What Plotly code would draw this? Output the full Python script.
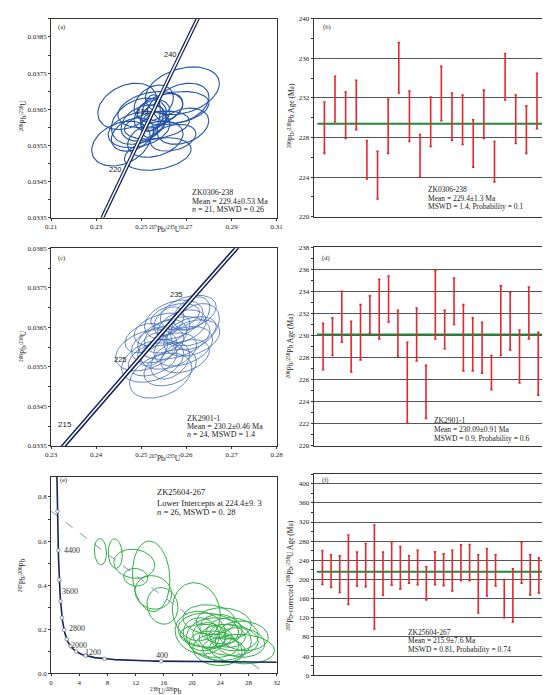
import numpy as np
import plotly.graph_objects as go

# decay constants (1/yr) and present 238U/235U
L238 = 1.55125e-10
L235 = 9.8485e-10
U_RATIO = 137.88

# ---- (a) ZK0306-238 concordia ellipses ----
a_cx = [0.2410, 0.2682, 0.2677, 0.2573, 0.2438, 0.2490, 0.2684, 0.2540, 0.2547, 0.2541, 0.2562,
        0.2490, 0.2641, 0.2569, 0.2547, 0.2511, 0.2605, 0.2555, 0.2641, 0.2461, 0.2557]
a_cy = [0.03555, 0.03701, 0.03667, 0.03526, 0.03658, 0.03617, 0.03603, 0.03649, 0.03626, 0.03631, 0.03567,
        0.03594, 0.03653, 0.03606, 0.03633, 0.03612, 0.03655, 0.03667, 0.03571, 0.03580, 0.03621]
a_sx = [0.0130, 0.0164, 0.0123, 0.0148, 0.0131, 0.0123, 0.0115, 0.0144, 0.0051, 0.0043, 0.0123,
        0.0137, 0.0159, 0.0144, 0.0079, 0.0101, 0.0079, 0.0087, 0.0101, 0.0094, 0.0054]
a_sy = [0.00062, 0.00066, 0.00055, 0.00045, 0.00064, 0.00064, 0.00050, 0.00050, 0.00037, 0.00059, 0.00050,
        0.00050, 0.00046, 0.00039, 0.00043, 0.00050, 0.00039, 0.00050, 0.00037, 0.00046, 0.00023]
a_ages = [220, 230, 240]

# ---- (b) ZK0306-238 weighted mean ----
b_hi = [231.6, 234.2, 232.6, 233.8, 227.7, 226.6, 231.9, 237.6, 232.7, 228.3, 232.1,
        235.2, 232.5, 232.3, 229.8, 232.8, 227.6, 236.5, 232.3, 231.2, 234.5]
b_lo = [226.4, 229.6, 227.9, 228.8, 223.8, 221.8, 226.4, 232.5, 227.6, 224.0, 227.1,
        229.7, 227.7, 227.3, 225.0, 227.9, 223.5, 231.8, 227.4, 226.4, 228.9]
b_mean = 229.4

# ---- (c) ZK2901-1 concordia ellipses ----
c_cx = [0.2511, 0.2543, 0.2525, 0.2619, 0.2604, 0.2572, 0.2572, 0.2593, 0.2546, 0.2590, 0.2525, 0.2561,
        0.2575, 0.2612, 0.2554, 0.2536, 0.2597, 0.2525, 0.2612, 0.2564, 0.2612, 0.2564, 0.2561, 0.2507]
c_cy = [0.03592, 0.03528, 0.03565, 0.03652, 0.03687, 0.03623, 0.03669, 0.03602, 0.03644, 0.03652, 0.03569, 0.03590,
        0.03677, 0.03640, 0.03627, 0.03606, 0.03577, 0.03594, 0.03685, 0.03565, 0.03623, 0.03548, 0.03665, 0.03623]
c_sx = [0.0068, 0.0069, 0.0069, 0.0054, 0.0062, 0.0080, 0.0065, 0.0065, 0.0062, 0.0054, 0.0054, 0.0062,
        0.0054, 0.0054, 0.0047, 0.0058, 0.0054, 0.0033, 0.0040, 0.0043, 0.0062, 0.0058, 0.0033, 0.0043]
c_sy = [0.00052, 0.00057, 0.00054, 0.00058, 0.00044, 0.00054, 0.00050, 0.00050, 0.00042, 0.00042, 0.00042, 0.00046,
        0.00033, 0.00037, 0.00042, 0.00046, 0.00042, 0.00042, 0.00042, 0.00046, 0.00046, 0.00046, 0.00037, 0.00037]
c_ages = [215, 225, 235]

# ---- (d) ZK2901-1 weighted mean ----
d_hi = [231.1, 231.6, 234.0, 231.3, 232.8, 233.6, 235.1, 235.4, 232.3, 229.4, 232.5, 227.3,
        235.9, 232.3, 235.2, 232.8, 231.6, 231.2, 228.2, 234.5, 233.9, 230.5, 234.4, 230.3]
d_lo = [226.9, 228.2, 229.4, 226.7, 227.8, 230.2, 229.7, 231.2, 228.1, 222.1, 227.7, 222.5,
        229.7, 228.8, 231.0, 226.8, 226.8, 226.6, 225.1, 228.2, 228.7, 225.7, 229.7, 224.6]
d_mean = 230.09

# ---- (e) ZK25604-267 Tera-Wasserburg ellipses ----
e_cx = [7.0, 9.1, 11.8, 14.2, 12.0, 14.5, 15.8, 20.6,
        21.2, 22.3, 23.8, 25.2, 27.1, 23.6, 22.0, 24.5, 21.3, 25.7, 26.8, 23.1, 24.1, 27.3, 24.5, 22.4, 25.0, 22.4]
e_cy = [0.552, 0.543, 0.497, 0.440, 0.436, 0.367, 0.306, 0.279,
        0.184, 0.195, 0.155, 0.151, 0.110, 0.106, 0.170, 0.226, 0.177, 0.177, 0.140, 0.132, 0.200, 0.170, 0.106, 0.170, 0.170, 0.244]
e_sx = [0.86, 1.0, 2.9, 2.65, 1.7, 2.6, 2.2, 3.4,
        3.6, 4.3, 4.6, 4.2, 4.6, 3.5, 3.7, 3.9, 2.55, 3.7, 3.5, 3.5, 3.0, 3.5, 3.0, 2.3, 2.55, 3.7]
e_sy = [0.060, 0.067, 0.066, 0.160, 0.040, 0.076, 0.083, 0.132,
        0.097, 0.078, 0.097, 0.071, 0.067, 0.071, 0.052, 0.071, 0.075, 0.075, 0.067, 0.060, 0.067, 0.067, 0.056, 0.060, 0.052, 0.067]
e_marks = [400, 800, 1200, 1600, 2000, 2400, 2800, 3200, 3600, 4000, 4400, 4800]
e_labels = [4400, 3600, 2800, 2000, 1200, 400]
e_label_x = [1.5, 1.3, 2.3, 2.6, 4.5, 15.8]
e_label_y = [0.557, 0.370, 0.203, 0.124, 0.094, 0.079]
e_y0 = 0.735        # common-Pb intercept of discordia
e_lower = 224.4     # lower intercept age (Ma)

# ---- (f) ZK25604-267 weighted mean ----
f_hi = [260.4, 251.5, 249.4, 292.9, 257.0, 275.0, 313.6, 257.0, 278.4, 268.7, 249.4, 261.1, 226.6,
        257.7, 253.5, 261.1, 272.2, 272.9, 251.5, 264.6, 251.5, 199.7, 222.4, 277.7, 251.5, 245.2]
f_lo = [189.4, 183.1, 172.7, 147.8, 186.5, 185.1, 96.7, 167.2, 187.9, 180.3, 192.1, 189.3, 157.5,
        189.3, 187.2, 176.2, 197.6, 197.6, 129.9, 165.8, 186.5, 120.2, 111.2, 192.1, 167.9, 172.0]
f_mean = 215.9

SERIF = "Liberation Serif"
SANS = "Liberation Sans"
NAVY = "#17245c"
RED = "#e8262d"
GREEN_LINE = "#1f8a3c"
GREEN = "#2fb044"

W, H = 550, 695


def px(x):
    return x / W


def py(y):
    return 1 - y / H


fig = go.Figure()


def add_ellipses(cx, cy, sx, sy, rho, color, width, xa, ya):
    t = np.linspace(0, 2 * np.pi, 73)
    xs, ys = [], []
    for x0, y0, a, b in zip(cx, cy, sx, sy):
        xs += list(x0 + a * np.cos(t)) + [None]
        ys += list(y0 + b * (rho * np.cos(t) + np.sqrt(1 - rho ** 2) * np.sin(t))) + [None]
    fig.add_trace(go.Scatter(x=xs, y=ys, mode="lines", line=dict(color=color, width=width),
                             xaxis=xa, yaxis=ya, hoverinfo="skip"))


def add_wetherill(t0, t1, xa, ya, w_out, w_in):
    t = np.linspace(t0, t1, 100) * 1e6
    x = np.exp(L235 * t) - 1
    y = np.exp(L238 * t) - 1
    fig.add_trace(go.Scatter(x=x, y=y, mode="lines", line=dict(color=NAVY, width=w_out),
                             xaxis=xa, yaxis=ya, hoverinfo="skip"))
    fig.add_trace(go.Scatter(x=x, y=y, mode="lines", line=dict(color="white", width=w_in),
                             xaxis=xa, yaxis=ya, hoverinfo="skip"))


def add_bars(hi, lo, mean, xa, ya):
    n = len(hi)
    idx = list(range(1, n + 1))
    mid = [(h + l) / 2 for h, l in zip(hi, lo)]
    half = [(h - l) / 2 for h, l in zip(hi, lo)]
    fig.add_trace(go.Scatter(x=[0.35, n + 0.7], y=[mean, mean], mode="lines",
                             line=dict(color=GREEN_LINE, width=2), xaxis=xa, yaxis=ya, hoverinfo="skip"))
    fig.add_trace(go.Scatter(x=idx, y=mid, mode="markers", marker=dict(size=1, color=RED),
                             error_y=dict(type="data", array=half, visible=True, color=RED,
                                          thickness=1.6, width=1.2),
                             xaxis=xa, yaxis=ya, hoverinfo="skip"))


# (a)
add_ellipses(a_cx, a_cy, a_sx, a_sy, 0.3, "#2353a8", 1.1, "x", "y")
add_wetherill(205, 250, "x", "y", 4.0, 1.5)
# (b)
add_bars(b_hi, b_lo, b_mean, "x2", "y2")
# (c)
add_ellipses(c_cx, c_cy, c_sx, c_sy, 0.35, "#3d69b5", 0.8, "x3", "y3")
add_wetherill(205, 250, "x3", "y3", 4.6, 1.5)
# (d)
add_bars(d_hi, d_lo, d_mean, "x4", "y4")

# (e) Tera-Wasserburg
add_ellipses(e_cx, e_cy, e_sx, e_sy, -0.1, GREEN, 1.0, "x5", "y5")
tl = np.exp(L238 * e_lower * 1e6) - 1
x_low = 1 / tl
y_low = (np.exp(L235 * e_lower * 1e6) - 1) / U_RATIO / tl
x_end = e_y0 / ((e_y0 - y_low) / x_low)
fig.add_trace(go.Scatter(x=[0, x_end], y=[e_y0, 0], mode="lines",
                         line=dict(color="#8090b8", width=1, dash="dash"),
                         xaxis="x5", yaxis="y5", hoverinfo="skip"))
tt = np.concatenate([np.linspace(190, 1000, 120), np.linspace(1000, 5300, 200)]) * 1e6
e238 = np.exp(L238 * tt) - 1
fig.add_trace(go.Scatter(x=1 / e238, y=(np.exp(L235 * tt) - 1) / U_RATIO / e238, mode="lines",
                         line=dict(color=NAVY, width=1.6), xaxis="x5", yaxis="y5", hoverinfo="skip"))
tm = np.array(e_marks) * 1e6
m238 = np.exp(L238 * tm) - 1
fig.add_trace(go.Scatter(x=1 / m238, y=(np.exp(L235 * tm) - 1) / U_RATIO / m238, mode="markers",
                         marker=dict(size=3.5, color="white", line=dict(color="#6a7290", width=0.8)),
                         xaxis="x5", yaxis="y5", hoverinfo="skip"))
# (f)
add_bars(f_hi, f_lo, f_mean, "x6", "y6")

axis_base = dict(showline=True, mirror=True, linecolor="#333", linewidth=1, ticks="outside",
                 ticklen=2, tickcolor="#333", tickfont=dict(family=SERIF, size=7, color="#222"),
                 showgrid=False, zeroline=False)
left_dom = [px(38), px(269)]
right_dom = [px(307), px(546)]


def bar_x(n, anchor):
    return dict(axis_base, domain=right_dom, range=[0, n + 0.95], showticklabels=False,
                ticks="", anchor=anchor)


def bar_y(rng, dtick, minor, top, bottom, anchor):
    return dict(axis_base, domain=[py(bottom), py(top)], range=rng, dtick=dtick, tick0=0,
                showgrid=True, gridcolor="#555", gridwidth=1.1,
                minor=dict(dtick=minor, ticklen=2, tickcolor="#333", ticks="outside"), anchor=anchor)


fig.update_layout(
    width=W, height=H, margin=dict(l=0, r=0, t=0, b=0),
    paper_bgcolor="white", plot_bgcolor="white", showlegend=False,
    xaxis=dict(axis_base, domain=left_dom, range=[0.21, 0.31], tick0=0.21, dtick=0.02,
               tickformat=".2f", anchor="y"),
    yaxis=dict(axis_base, domain=[py(208), py(7)], range=[0.0335, 0.0390], tick0=0.0335, dtick=0.001,
               tickformat=".4f", minor=dict(dtick=0.0005, ticklen=2, ticks="outside"), anchor="x"),
    xaxis2=bar_x(len(b_hi), "y2"),
    yaxis2=bar_y([220, 240], 4, 2, 7, 207, "x2"),
    xaxis3=dict(axis_base, domain=left_dom, range=[0.23, 0.28], tick0=0.23, dtick=0.01,
                tickformat=".2f", anchor="y3"),
    yaxis3=dict(axis_base, domain=[py(439), py(239)], range=[0.0335, 0.0385], tick0=0.0335, dtick=0.001,
                tickformat=".4f", minor=dict(dtick=0.0005, ticklen=2, ticks="outside"), anchor="x3"),
    xaxis4=bar_x(len(d_hi), "y4"),
    yaxis4=bar_y([220, 238], 2, 1, 238, 439, "x4"),
    xaxis5=dict(axis_base, domain=left_dom, range=[0, 32], dtick=4, anchor="y5"),
    yaxis5=dict(axis_base, domain=[py(669), py(470)], range=[0, 0.8925], dtick=0.2, tickformat=".1f",
                minor=dict(dtick=0.1, ticklen=2, ticks="outside"), anchor="x5"),
    xaxis6=bar_x(len(f_hi), "y6"),
    yaxis6=bar_y([0, 421], 40, 20, 467, 671, "x6"),
)

ann = []


def note(x, y, text, size=7.5, family=SERIF, anchor="left", angle=0, color="#222"):
    ann.append(dict(x=px(x), y=py(y), xref="paper", yref="paper", text=text, showarrow=False,
                    xanchor=anchor, yanchor="middle", textangle=angle,
                    font=dict(family=family, size=size, color=color)))


# panel letters
for lab, x, y in [("(a)", 43, 15), ("(b)", 314, 15), ("(c)", 43, 249),
                  ("(d)", 313, 249), ("(e)", 45, 473), ("(f)", 313, 473)]:
    note(x, y, lab, size=6.5)

# axis titles
for x, y, t in [(9, 105, "<sup>206</sup>Pb/<sup>238</sup>U"), (9, 338, "<sup>206</sup>Pb/<sup>238</sup>U"),
                (9, 570, "<sup>207</sup>Pb/<sup>206</sup>Pb"),
                (283, 105, "<sup>206</sup>Pb/<sup>238</sup>Pb Age (Ma)"),
                (283, 338, "<sup>206</sup>Pb/<sup>238</sup>Pb Age (Ma)"),
                (283, 570, "<sup>207</sup>Pb-corrected <sup>206</sup>Pb/<sup>238</sup>U Age (Ma)")]:
    note(x, y, t, size=7.5, anchor="center", angle=-90)
for x, y, t in [(155, 220, "<sup>207</sup>Pb/<sup>235</sup>U"), (155, 451, "<sup>207</sup>Pb/<sup>235</sup>U"),
                (155, 687, "<sup>238</sup>U/<sup>206</sup>Pb")]:
    note(x, y, t, size=7.5, anchor="center")

# statistics blocks
blocks = [
    (180, [183, 191.5, 200], ["ZK0306-238", "Mean = 229.4±0.53 Ma", "<i>n</i> = 21, MSWD = 0.26"], 8),
    (422, [180, 188.3, 196.7], ["ZK0306-238", "Mean = 229.4±1.3 Ma", "MSWD = 1.4, Probability = 0.1"], 7.5),
    (175, [411, 419, 427], ["ZK2901-1", "Mean = 230.2±0.46 Ma", "<i>n</i> = 24, MSWD = 1.4"], 8),
    (428, [413, 422, 431], ["ZK2901-1", "Mean = 230.09±0.91 Ma", "MSWD = 0.9, Probability = 0.6"], 7.5),
    (144, [485.5, 496.5, 505.5], ["ZK25604-267", "Lower Intercepts at 224.4±9. 3",
                                  "<i>n</i> = 26, MSWD = 0. 28"], 8.5),
    (402, [628, 636.3, 644.6], ["ZK25604-267", "Mean = 215.9±7.6 Ma", "MSWD = 0.81, Probability = 0.74"], 7.5),
]
for x, ys, lines, size in blocks:
    for y, t in zip(ys, lines):
        note(x, y, t, size=size)

# concordia age labels
for age, x, y in zip(a_ages, [0.2386, 0.2507, 0.2631], [0.03482, 0.03643, 0.03802]):
    ann.append(dict(x=x, y=y, xref="x", yref="y", text=str(age), showarrow=False,
                    font=dict(family=SANS, size=7.5, color="#222")))
for age, x, y in zip(c_ages, [0.2330, 0.2454, 0.2579], [0.03404, 0.03569, 0.03733]):
    ann.append(dict(x=x, y=y, xref="x3", yref="y3", text=str(age), showarrow=False,
                    font=dict(family=SANS, size=8 if age == 215 else 7.5, color="#222")))
for age, x, y in zip(e_labels, e_label_x, e_label_y):
    ann.append(dict(x=x, y=y, xref="x5", yref="y5", text=str(age), showarrow=False,
                    xanchor="center" if age == 400 else "left",
                    font=dict(family=SERIF, size=8, color="#333")))

fig.update_layout(annotations=ann)
fig.write_html("out.html")
